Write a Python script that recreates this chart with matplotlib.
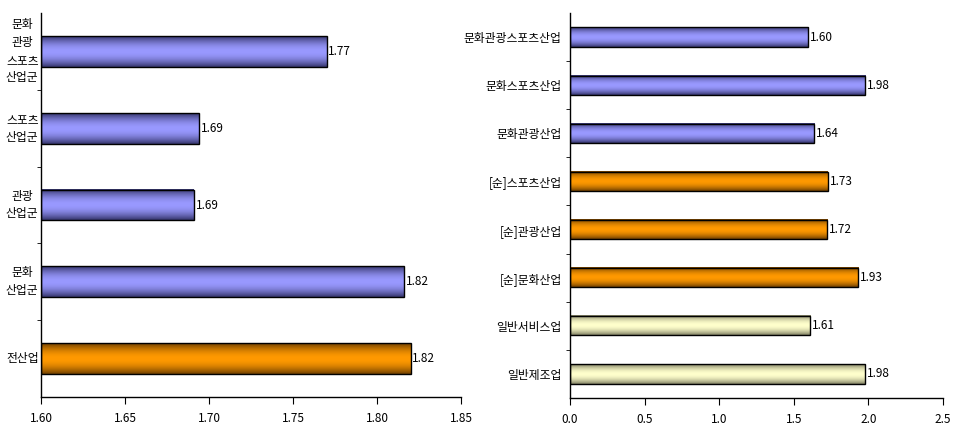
import numpy as np
import matplotlib
matplotlib.use('Agg')
import matplotlib.pyplot as plt
from matplotlib.colors import to_rgb

plt.rcParams['font.family'] = ['Noto Sans CJK KR', 'DejaVu Sans']

# left panel
cats_left = ['문화\n관광\n스포츠\n산업군', '스포츠\n산업군', '관광\n산업군', '문화\n산업군', '전산업']
vals_left = [1.77, 1.694, 1.691, 1.816, 1.82]
grp_left = ['blue', 'blue', 'blue', 'blue', 'orange']

# right panel
cats_right = ['문화관광스포츠산업', '문화스포츠산업', '문화관광산업', '[순]스포츠산업',
              '[순]관광산업', '[순]문화산업', '일반서비스업', '일반제조업']
vals_right = [1.597, 1.978, 1.636, 1.729, 1.724, 1.932, 1.609, 1.978]
grp_right = ['blue', 'blue', 'blue', 'orange', 'orange', 'orange', 'cream', 'cream']

shades = {
    'blue': ('#34346a', '#9999ff'),
    'orange': ('#6e3f00', '#ff9900'),
    'cream': ('#7e7e62', '#ffffcc'),
}


def grad(dark, light, n=60):
    t = np.linspace(-1, 1, n)
    w = np.cos(t * np.pi / 2) ** 0.9
    d = np.array(to_rgb(dark))
    l = np.array(to_rgb(light))
    return (d[None, :] * (1 - w[:, None]) + l[None, :] * w[:, None])[:, None, :]


def panel(ax, cats, vals, grps, x0, x1, xticks, fmt_tick):
    n = len(cats)
    ys = np.arange(n)[::-1]
    h = 0.4
    for y, v, g in zip(ys, vals, grps):
        dark, light = shades[g]
        ax.imshow(grad(dark, light), extent=[x0, v, y - h / 2, y + h / 2],
                  aspect='auto', zorder=2, interpolation='bilinear')
        ax.text(v + (x1 - x0) * 0.004, y, f'{v:.2f}', va='center', ha='left', fontsize=8.5)
    ax.barh(ys, [v - x0 for v in vals], left=x0, height=h, facecolor='none',
            edgecolor='black', linewidth=1, zorder=3)
    ax.set_xlim(x0, x1)
    ax.set_ylim(-0.5, n - 0.5)
    ax.set_aspect('auto')
    ax.set_xticks(xticks)
    ax.set_xticklabels([fmt_tick(t) for t in xticks], fontsize=8.5)
    ax.set_yticks(ys)
    ax.set_yticklabels(cats, fontsize=8.5)
    ax.set_yticks(np.arange(n - 1) + 0.5, minor=True)
    ax.tick_params(axis='y', which='major', length=0, pad=6)
    ax.tick_params(axis='y', which='minor', length=3, direction='out')
    ax.tick_params(axis='x', length=5, direction='out', pad=6)
    for s in ['top', 'right']:
        ax.spines[s].set_visible(False)
    for s in ['left', 'bottom']:
        ax.spines[s].set_linewidth(1)
    return ys


fig = plt.figure(figsize=(9.6, 4.4), dpi=100)
ax1 = fig.add_axes([41 / 960, 43 / 440, 420 / 960, 384 / 440])
ax2 = fig.add_axes([570 / 960, 42 / 440, 373 / 960, 385 / 440])

ys1 = panel(ax1, cats_left, vals_left, grp_left, 1.60, 1.85,
            [1.60, 1.65, 1.70, 1.75, 1.80, 1.85], lambda t: f'{t:.2f}')
# multi-line labels centred in the left margin
ax1.set_yticklabels([])
for y, c in zip(ys1, cats_left):
    ax1.annotate(c, xy=(0, y), xycoords=ax1.get_yaxis_transform(),
                 xytext=(-13.5, 0), textcoords='offset points',
                 ha='center', va='center', multialignment='center',
                 fontsize=8.5, linespacing=1.47)

panel(ax2, cats_right, vals_right, grp_right, 0.0, 2.5,
      [0.0, 0.5, 1.0, 1.5, 2.0, 2.5], lambda t: f'{t:.1f}')

fig.savefig('out.png', dpi=100)
